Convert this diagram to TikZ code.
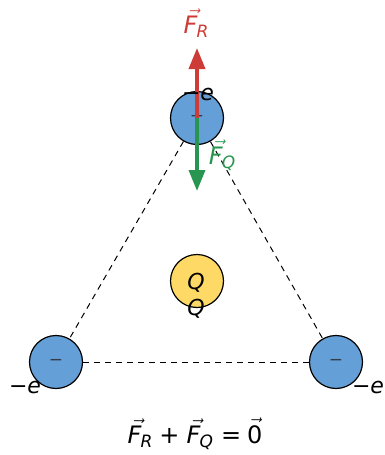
\documentclass[tikz,border=0pt]{standalone}
\usepackage{amsmath}
\usepackage{fontspec}
\setmainfont{DejaVu Sans}
\usetikzlibrary{arrows.meta}
\definecolor{pblue}{RGB}{100,160,215}
\definecolor{pyellow}{RGB}{255,217,102}
\definecolor{fred}{RGB}{205,60,55}
\definecolor{fgreen}{RGB}{40,150,80}
\definecolor{mgray}{RGB}{50,60,75}
\newcommand\vF[1]{\rlap{\kern3pt$\vec{\phantom{\textit{F}}}$}\textit{F}\kern-1pt\raisebox{-0.2em}{\fontsize{17}{17}\selectfont\itshape #1}}
\begin{document}
\begin{tikzpicture}[x=1pt,y=-1pt,
  charge/.style={circle,draw=black,line width=1.2pt,minimum size=53pt,inner sep=0pt,font=\fontsize{17}{17}\selectfont},
  neg/.style={charge,fill=pblue,text=mgray},
  lbl/.style={font=\fontsize{22}{22}\selectfont\itshape,inner sep=0pt,anchor=base},
  flbl/.style={font=\fontsize{24}{24}\selectfont,inner sep=0pt,anchor=base},
  force/.style={line width=3.6pt,-{Triangle[length=21pt,width=16pt]}},
  bond/.style={line width=1pt,dash pattern=on 6pt off 5pt}]
\useasboundingbox (0,0) rectangle (384,455);
\node[neg] (T) at (197,118) {−};
\node[neg] (L) at (56,362) {−};
\node[neg] (Rt) at (336,362) {−};
\node[charge,fill=pyellow] (Q) at (197,281) {};
\draw[bond] (T) -- (L);
\draw[bond] (T) -- (Rt);
\draw[bond] (L) -- (Rt);
\coordinate (Rtip) at (197,48);
\coordinate (Gtip) at (197,191);
\draw[force,fred] (T.center) -- (Rtip);
\draw[force,fgreen] (T.center) -- (Gtip);
\node[lbl] (Qin) at (196,289) {Q};
\node[lbl] (eT) at (198,100) {\upshape−\itshape e};
\node[lbl] (eL) at (25,393) {\upshape−\itshape e};
\node[lbl] (eR) at (368,393) {\upshape−\itshape e};
\node[lbl] (Qb) at (196,315) {Q};
\node[flbl,text=fred] (FR) at (196,33) {\vF{R}};
\node[flbl,text=fgreen] (FQ) at (222,164) {\vF{Q}};
\node[flbl] (eq) at (195,443) {\vF{R}\hspace{7pt}+\hspace{7pt}\vF{Q}\hspace{8pt}=\hspace{6pt}$\vec{\text{0}}$};
\end{tikzpicture}
\end{document}
